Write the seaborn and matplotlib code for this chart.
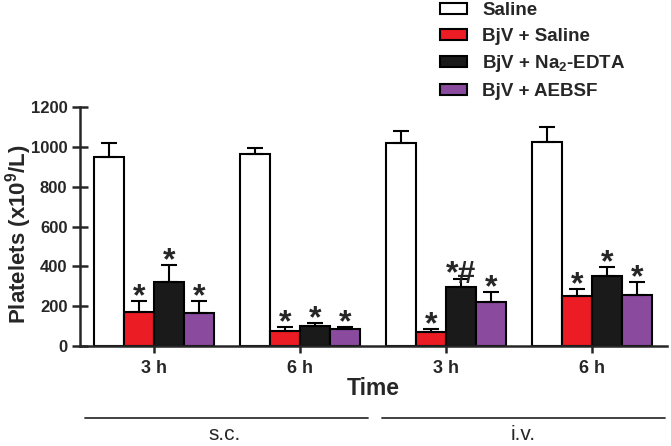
import pandas as pd
import matplotlib
matplotlib.use("Agg")
import matplotlib.pyplot as plt
import seaborn as sns

# values
groups = ["s.c. 3 h", "s.c. 6 h", "i.v. 3 h", "i.v. 6 h"]
tick_labels = ["3 h", "6 h", "3 h", "6 h"]
treatments = ["Saline", "BjV + Saline", r"BjV + Na$_{\mathbf{2}}$-EDTA", "BjV + AEBSF"]
colors = ["white", "#EC1C24", "#1A1A1A", "#8A4B9E"]

saline = [947, 965, 1020, 1022]
bjv_saline = [172, 77, 72, 251]
bjv_edta = [323, 102, 298, 353]
bjv_aebsf = [167, 85, 221, 256]

saline_err = [70, 30, 60, 78]
bjv_saline_err = [54, 20, 13, 34]
bjv_edta_err = [84, 15, 37, 45]
bjv_aebsf_err = [59, 9, 52, 67]

saline_sig = ["", "", "", ""]
bjv_saline_sig = ["*", "*", "*", "*"]
bjv_edta_sig = ["*", "*", "*#", "*"]
bjv_aebsf_sig = ["*", "*", "*", "*"]

means = [saline, bjv_saline, bjv_edta, bjv_aebsf]
errs = [saline_err, bjv_saline_err, bjv_edta_err, bjv_aebsf_err]
sigs = [saline_sig, bjv_saline_sig, bjv_edta_sig, bjv_aebsf_sig]

rows = []
for t, vals in zip(treatments, means):
    for g, v in zip(groups, vals):
        rows.append({"Group": g, "Treatment": t, "Platelets": v})
df = pd.DataFrame(rows)

sns.set_style("ticks")
plt.rcParams["font.family"] = ["Liberation Sans", "DejaVu Sans"]
plt.rcParams["font.weight"] = "bold"
plt.rcParams["mathtext.fontset"] = "custom"
plt.rcParams["mathtext.bf"] = "Liberation Sans:bold"
plt.rcParams["mathtext.rm"] = "Liberation Sans:bold"

fig = plt.figure(figsize=(6.71, 4.46), dpi=100)
ax = fig.add_axes([0.1192, 0.2242, 0.8748, 0.5358])

sns.barplot(data=df, x="Group", y="Platelets", hue="Treatment", order=groups,
            hue_order=treatments, palette=colors, width=0.82, gap=0,
            edgecolor="black", linewidth=1.5, errorbar=None, saturation=1, ax=ax)

for cont, err, sig in zip(ax.containers, errs, sigs):
    xs = [b.get_x() + b.get_width() / 2 for b in cont]
    ys = [b.get_height() for b in cont]
    ax.errorbar(xs, ys, yerr=[[0] * len(err), err], fmt="none", ecolor="black",
                elinewidth=1.5, capsize=5.8, capthick=1.5, zorder=1)
    for x, y, e, s in zip(xs, ys, err, sig):
        if s:
            ax.annotate(s, (x, y + e), xytext=(0, -3), textcoords="offset points",
                        ha="center", va="baseline", fontsize=23, fontweight="bold")

ax.set_xlim(-0.506, 3.514)
ax.set_ylim(0, 1200)
ax.set_yticks(range(0, 1201, 200))
ax.set_xticks(range(len(groups)))
ax.set_xticklabels(tick_labels, fontsize=13, fontweight="bold")
ax.tick_params(axis="y", direction="inout", length=12, width=1.8, labelsize=12, pad=3)
ax.tick_params(axis="x", direction="out", length=5, width=1.8, pad=5)
for lab in ax.get_yticklabels():
    lab.set_fontweight("bold")
ax.set_xlabel("Time", fontsize=16.5, fontweight="bold", labelpad=0)
ax.set_ylabel(r"Platelets (x10$^{\mathbf{9}}$/L)", fontsize=16, fontweight="bold")
ax.yaxis.set_label_coords(-0.079, 0.47)
sns.despine(ax=ax)
for sp in ["left", "bottom"]:
    ax.spines[sp].set_linewidth(1.8)

sns.move_legend(ax, "upper left", bbox_to_anchor=(0.656, 0.995),
                bbox_transform=fig.transFigure, frameon=False, title=None,
                fontsize=13.5, handlelength=1.45, handleheight=0.55,
                handletextpad=0.8, labelspacing=0.46, borderpad=0, borderaxespad=0)

# route annotations below the axis
fig.add_artist(plt.Line2D([0.1267, 0.548], [0.0628, 0.0628], color="#333333", lw=1.3))
fig.add_artist(plt.Line2D([0.569, 0.991], [0.0628, 0.0628], color="#333333", lw=1.3))
fig.text(0.335, 0.013, "s.c.", ha="center", va="baseline", fontsize=15, fontweight="normal")
fig.text(0.779, 0.013, "i.v.", ha="center", va="baseline", fontsize=15, fontweight="normal")

fig.savefig("out.png", dpi=100)
